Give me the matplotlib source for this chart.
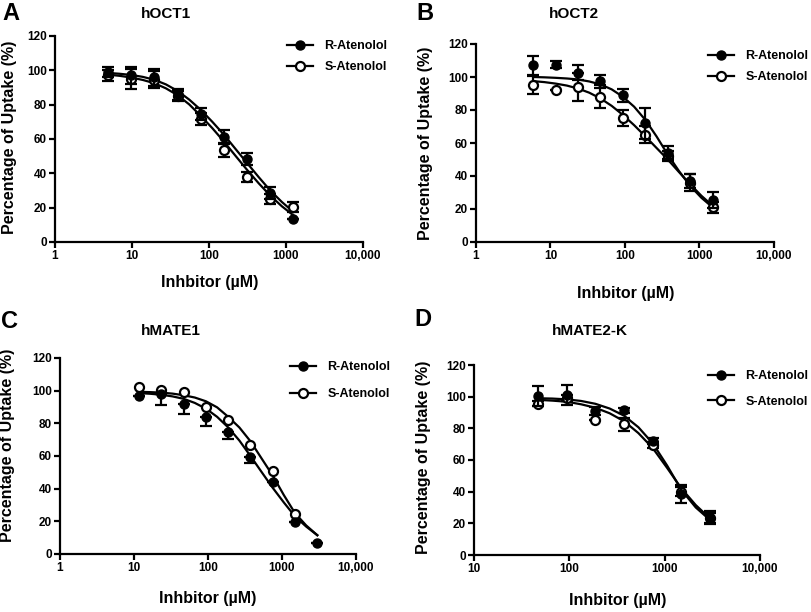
import matplotlib
matplotlib.use("Agg")
import matplotlib.pyplot as plt
from matplotlib.lines import Line2D

plt.rcParams["font.family"] = ["Liberation Sans", "DejaVu Sans"]
plt.rcParams["font.weight"] = "bold"

# --- data (dose in uM, uptake in %) ---
OCT1_DOSE = [4.88, 9.77, 19.5, 39.1, 78.1, 156.3, 312.5, 625, 1250]
OCT1_R = [99, 97, 96, 86, 74.5, 61, 48.5, 28.5, 13.5]
OCT1_R_ERR = [3, 5, 5, 3, 3.5, 4, 3.5, 3.5, 0]
OCT1_S = [97, 95, 94.5, 85, 71.5, 53.5, 38, 25, 20.5]
OCT1_S_ERR = [3, 6, 5, 3, 3.5, 4, 3, 3, 3]
# fitted curves, read at the doses and half-way between them
OCT1_FIT_DOSE = [4.88, 6.9, 9.77, 13.8, 19.5, 27.6, 39.1, 55.2, 78.1, 110.5,
                 156.3, 221, 312.5, 442, 625, 884, 1250]
OCT1_R_FIT = [98.5, 98, 97.3, 96.2, 94.5, 91.8, 88, 83, 77, 70,
              62.5, 54.2, 46, 37.8, 30, 23.3, 17.5]
OCT1_S_FIT = [97.5, 96.8, 95.8, 94.4, 92.5, 89.5, 85.5, 80.2, 73.5, 66.3,
              58.5, 50.2, 42, 34.2, 27, 20.8, 15.5]

OCT2_DOSE = [5.86, 11.72, 23.44, 46.88, 93.75, 187.5, 375, 750, 1500]
OCT2_R = [107, 107.5, 102.5, 97.5, 89, 72, 54, 37, 25.5]
OCT2_R_ERR = [5.5, 2, 4.5, 4, 4, 9.5, 4, 4.5, 5]
OCT2_S = [95, 92, 94, 88, 75, 65, 52, 36, 21]
OCT2_S_ERR = [5.5, 0, 8.5, 7, 5, 5, 3, 5, 3.5]
OCT2_FIT_DOSE = [5.86, 8.29, 11.72, 16.6, 23.44, 33.1, 46.88, 66.3, 93.75, 132.6,
                 187.5, 265, 375, 530, 750, 1061, 1500]
OCT2_R_FIT = [100, 99.8, 99.5, 99.1, 98.5, 97.3, 95.5, 92.5, 88, 82,
              74, 64, 53, 43, 34, 26.8, 21]
OCT2_S_FIT = [97.5, 96.9, 96, 94.8, 93, 90.5, 87, 82.5, 77, 70.8,
              64, 57, 50, 42.4, 35, 28, 22]

MATE1_DOSE = [11.72, 23.44, 46.88, 93.75, 187.5, 375, 750, 1500, 3000]
MATE1_R = [96.5, 98, 92, 84, 74.5, 59.5, 44, 19.5, 7]
MATE1_R_ERR_LO = [0, 6.5, 6.5, 5.7, 4, 4, 0, 0, 0]
MATE1_R_ERR_HI = [0, 0, 0, 0, 0, 0, 0, 0, 0]
MATE1_S = [102, 100.5, 99, 90, 82, 66.5, 51, 24.5]
MATE1_FIT_DOSE = [11.72, 16.6, 23.44, 33.1, 46.88, 66.3, 93.75, 132.6, 187.5, 265,
                  375, 530, 750, 1061, 1500, 2121, 3000]
MATE1_R_FIT = [98.5, 98.1, 97.5, 96.5, 95, 92.5, 89, 84, 77.5, 69.5,
               60, 50.2, 40.5, 31.5, 23, 16.8, 11.5]
MATE1_S_FIT = [99.3, 99.1, 98.8, 98.2, 97.2, 95.8, 93.5, 89.8, 84, 77.5,
               69, 58.5, 48, 36, 25, 17.5, 11.5]

MATE2K_DOSE = [46.88, 93.75, 187.5, 375, 750, 1500, 3000]
MATE2K_R = [100.5, 101, 91, 91.5, 72, 38.5, 23.5]
MATE2K_R_ERR = [6.5, 6.5, 2.5, 1.5, 2, 5.5, 4]
MATE2K_S = [95.5, 99, 85, 82.5, 69.5, 40, 23.5]
MATE2K_S_ERR = [1.5, 2, 0, 4, 2, 3, 3]
MATE2K_FIT_DOSE = [46.88, 66.3, 93.75, 132.6, 187.5, 265, 375, 530, 750, 1061,
                   1500, 2121, 3000]
MATE2K_R_FIT = [99, 98.8, 98.3, 97.3, 95.5, 92.5, 88, 80.7, 70.5, 56.5,
                41, 30, 22]
MATE2K_S_FIT = [98, 97.5, 96.8, 95.2, 93, 89.5, 84.5, 77, 67.5, 55,
                42, 31.5, 23]

LABELS = ["R-Atenolol", "S-Atenolol"]

W, H = 812, 612


def fx(px):
    return px / W


def fy(py):
    return 1 - py / H


def draw_panel(ax, dose, r, r_err, s, s_err, fit_dose, r_fit, s_fit,
               xlim, xticks, xticklabels):
    lw = 1.6
    ax.plot(fit_dose, r_fit, color="black", lw=lw, zorder=2, solid_joinstyle="round")
    ax.plot(fit_dose, s_fit, color="black", lw=lw, zorder=2, solid_joinstyle="round")
    ax.errorbar(dose[:len(s)], s, yerr=s_err, fmt="o", mfc="white", mec="black",
                mew=1.6, ms=6.5, ecolor="black", elinewidth=1.6, capsize=4.5,
                capthick=1.6, zorder=3, clip_on=False)
    ax.errorbar(dose, r, yerr=r_err, fmt="o", mfc="black", mec="black",
                ms=6.5, ecolor="black", elinewidth=1.6, capsize=4.5,
                capthick=1.6, zorder=4, clip_on=False)

    ax.set_xscale("log")
    ax.set_xlim(*xlim)
    ax.set_ylim(0, 120)
    ax.set_xticks(xticks)
    ax.set_xticklabels(xticklabels)
    ax.xaxis.set_minor_locator(matplotlib.ticker.NullLocator())
    ax.set_yticks([0, 20, 40, 60, 80, 100, 120])
    for side in ("top", "right"):
        ax.spines[side].set_visible(False)
    for side in ("left", "bottom"):
        ax.spines[side].set_linewidth(1.6)
    ax.tick_params(direction="out", length=4, width=1.6, labelsize=8.5, pad=2)
    for lab in ax.get_xticklabels() + ax.get_yticklabels():
        lab.set_fontweight("bold")


def add_legend(ax, x, y, spacing):
    handles = [
        Line2D([], [], color="black", lw=1.6, marker="o", ms=6.5, mfc="black", mec="black"),
        Line2D([], [], color="black", lw=1.6, marker="o", ms=6.5, mfc="white", mec="black", mew=1.6),
    ]
    ax.legend(handles, LABELS, loc="upper left", bbox_to_anchor=(fx(x), fy(y)),
              bbox_transform=ax.figure.transFigure, frameon=False, borderpad=0,
              borderaxespad=0, handlelength=2.1, handletextpad=0.9,
              labelspacing=spacing, prop={"weight": "bold", "size": 9})


fig = plt.figure(figsize=(W / 100, H / 100), dpi=100)
fig.patch.set_facecolor("white")

log_ticks = [1, 10, 100, 1000, 10000]
log_labels = ["1", "10", "100", "1000", "10,000"]

# panel A
axA = fig.add_axes([fx(55), fy(242), fx(363 - 55), (242 - 36) / H])
draw_panel(axA, OCT1_DOSE, OCT1_R, OCT1_R_ERR, OCT1_S, OCT1_S_ERR,
           OCT1_FIT_DOSE, OCT1_R_FIT, OCT1_S_FIT, (1, 10000), log_ticks, log_labels)
add_legend(axA, 287, 40, 0.75)

# panel B
axB = fig.add_axes([fx(476), fy(242), fx(774 - 476), (242 - 44) / H])
draw_panel(axB, OCT2_DOSE, OCT2_R, OCT2_R_ERR, OCT2_S, OCT2_S_ERR,
           OCT2_FIT_DOSE, OCT2_R_FIT, OCT2_S_FIT, (1, 10000), log_ticks, log_labels)
add_legend(axB, 708, 50, 0.75)

# panel C
axC = fig.add_axes([fx(60), fy(554), fx(356 - 60), (554 - 358) / H])
draw_panel(axC, MATE1_DOSE, MATE1_R, [MATE1_R_ERR_LO, MATE1_R_ERR_HI], MATE1_S, None,
           MATE1_FIT_DOSE, MATE1_R_FIT, MATE1_S_FIT, (1, 10000), log_ticks, log_labels)
add_legend(axC, 290, 361, 1.2)

# panel D
axD = fig.add_axes([fx(474), fy(555), fx(760 - 474), (555 - 365) / H])
draw_panel(axD, MATE2K_DOSE, MATE2K_R, MATE2K_R_ERR, MATE2K_S, MATE2K_S_ERR,
           MATE2K_FIT_DOSE, MATE2K_R_FIT, MATE2K_S_FIT, (10, 10000),
           log_ticks[1:], log_labels[1:])
add_legend(axD, 708, 370, 1.1)

# titles, panel letters, axis labels
titles = [("hOCT1", 166, 14), ("hOCT2", 574, 14), ("hMATE1", 171, 331), ("hMATE2-K", 590, 331)]
for text, x, y in titles:
    fig.text(fx(x), fy(y), text, ha="center", va="center", fontsize=11, fontweight="bold")

letters = [("A", 11, 14), ("B", 425, 14), ("C", 10, 321), ("D", 423, 320)]
for text, x, y in letters:
    fig.text(fx(x), fy(y), text, ha="center", va="center", fontsize=17, fontweight="bold")

xlabels = [(210, 283), (626, 293), (208, 598), (618, 601)]
for x, y in xlabels:
    fig.text(fx(x), fy(y), "Inhbitor (\u00b5M)", ha="center", va="center",
             fontsize=11.5, fontweight="bold")

ylabels = [(10, 137), (426, 143), (8, 445), (424, 457)]
for x, y in ylabels:
    fig.text(fx(x), fy(y), "Percentage of Uptake (%)", ha="center", va="center",
             rotation=90, fontsize=11.5, fontweight="bold")

fig.savefig("out.png", dpi=100)
